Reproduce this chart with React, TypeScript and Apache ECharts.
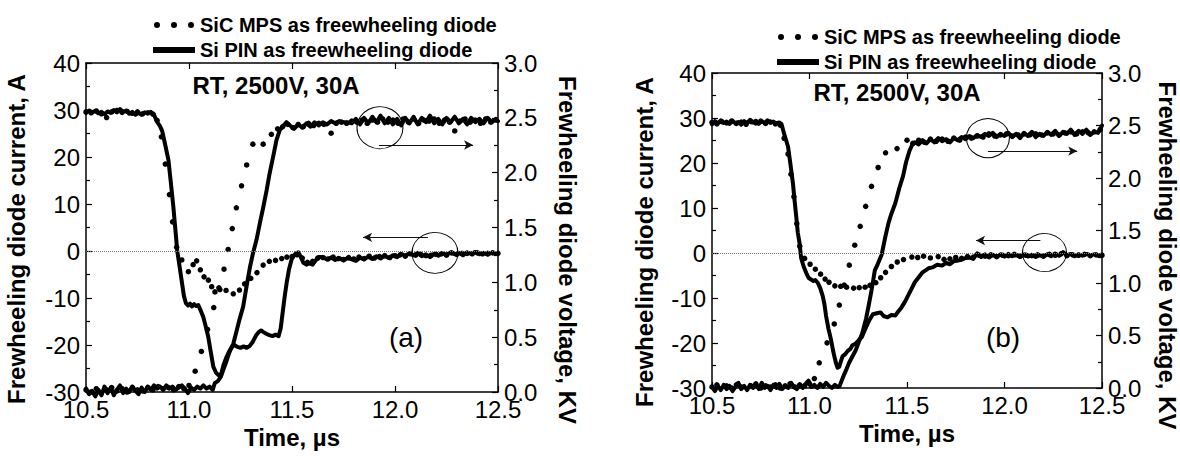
import React, { useEffect, useRef } from 'react';
import * as echarts from 'echarts';

const FONT = '"Liberation Sans", Arial, Helvetica, sans-serif';
const SIC_NAME = 'SiC MPS as freewheeling diode';
const PIN_NAME = 'Si PIN as freewheeling diode';
const X_TITLE = 'Time, \u00b5s';
const Y_LEFT_TITLE = 'Frewheeling diode current, A';
const Y_RIGHT_TITLE = 'Frewheeling diode voltage, KV';
const NOTE = 'RT, 2500V, 30A';
const PANEL_LABELS = ['(a)', '(b)'];

// x: time (us), current (A), voltage (kV)
const xRange = [10.5, 12.5];
const currentRange = [-30, 40];
const voltageRange = [0, 3];

// ---------- Panel (a) ----------
const pinCurrentA: number[][] = [
  [10.5,29.4],[10.515,29.9],[10.53,29.5],[10.545,29.8],[10.56,29.3],[10.575,29.6],[10.59,29.1],[10.605,29.7],[10.62,29.4],[10.635,30.0],[10.65,29.5],[10.665,30.2],[10.68,29.6],[10.695,29.9],[10.71,29.2],[10.725,29.6],[10.74,29.0],[10.755,29.4],[10.77,29.0],[10.785,29.5],[10.8,29.3],[10.815,29.6],[10.83,29.0],[10.845,27.5],[10.86,26.5],[10.87,25.5],[10.885,22.5],[10.9,19.4],[10.912,14.5],[10.924,9.4],[10.935,4.0],[10.943,0.0],[10.955,-3.5],[10.964,-6.2],[10.975,-9.5],[10.985,-11.1],[10.995,-11.6],[11.005,-11.2],[11.015,-11.8],[11.025,-11.3],[11.035,-11.7],[11.045,-11.5],[11.058,-12.8],[11.069,-14.0],[11.081,-16.0],[11.093,-18.2],[11.105,-21.3],[11.118,-24.6],[11.13,-25.8],[11.143,-26.4],[11.15,-26.5],[11.158,-25.9],[11.167,-24.3],[11.18,-22.8],[11.19,-21.8],[11.2,-21.0],[11.21,-20.3],[11.22,-20.0],[11.235,-20.4],[11.25,-20.6],[11.265,-20.3],[11.28,-20.6],[11.295,-20.2],[11.31,-19.3],[11.325,-18.0],[11.34,-17.2],[11.35,-16.9],[11.36,-17.2],[11.375,-17.6],[11.39,-17.9],[11.405,-18.1],[11.42,-17.8],[11.435,-18.1],[11.445,-16.5],[11.455,-13.0],[11.465,-9.5],[11.475,-6.5],[11.485,-4.0],[11.498,-1.8],[11.51,-0.9],[11.52,-0.5],[11.53,-0.3],[11.54,-1.0],[11.555,-2.5],[11.57,-2.9],[11.585,-2.6],[11.6,-2.9],[11.615,-2.0],[11.63,-1.3],[11.65,-1.3],[11.67,-1.8],[11.69,-1.4],[11.71,-1.9],[11.73,-1.5],[11.75,-2.0],[11.77,-1.5],[11.79,-1.8],[11.81,-2.1],[11.83,-1.4],[11.85,-1.8],[11.87,-1.2],[11.89,-1.7],[11.91,-1.1],[11.93,-1.6],[11.95,-1.0],[11.97,-1.5],[11.99,-0.9],[12.01,-1.3],[12.03,-0.6],[12.05,-1.0],[12.07,-0.5],[12.09,-0.9],[12.11,-0.4],[12.13,-1.1],[12.15,-0.7],[12.17,-1.3],[12.19,-0.6],[12.21,-1.0],[12.23,-0.5],[12.25,-0.8],[12.27,-0.3],[12.29,-0.7],[12.31,-0.4],[12.33,-0.9],[12.35,-0.3],[12.37,-0.6],[12.39,-0.2],[12.41,-0.7],[12.43,-0.4],[12.45,-0.8],[12.47,-0.3],[12.49,-0.6],[12.5,-0.5]
];

const pinVoltageA: number[][] = [
  [10.5,0.03],[10.515,-0.02],[10.53,0.01],[10.545,-0.04],[10.56,0.02],[10.575,-0.03],[10.59,0.05],[10.605,-0.01],[10.62,0.04],[10.635,-0.03],[10.65,0.02],[10.665,0.06],[10.68,-0.01],[10.695,0.03],[10.71,0.0],[10.725,0.05],[10.74,0.01],[10.755,-0.02],[10.77,0.04],[10.785,0.0],[10.8,0.05],[10.815,0.02],[10.83,0.06],[10.845,0.03],[10.86,0.05],[10.875,0.02],[10.89,0.06],[10.905,0.03],[10.92,0.05],[10.935,0.02],[10.95,0.04],[10.965,0.06],[10.98,0.03],[10.995,-0.01],[11.01,0.04],[11.025,0.02],[11.04,0.05],[11.055,0.03],[11.07,0.06],[11.085,0.03],[11.1,0.05],[11.115,0.02],[11.125,0.08],[11.14,0.1],[11.155,0.14],[11.166,0.2],[11.18,0.27],[11.19,0.33],[11.2,0.38],[11.215,0.44],[11.23,0.55],[11.245,0.66],[11.263,0.78],[11.28,0.97],[11.296,1.14],[11.31,1.26],[11.328,1.39],[11.345,1.55],[11.36,1.68],[11.377,1.84],[11.39,1.98],[11.41,2.16],[11.425,2.3],[11.441,2.39],[11.455,2.42],[11.473,2.46],[11.49,2.43],[11.51,2.40],[11.53,2.44],[11.55,2.41],[11.57,2.45],[11.59,2.42],[11.61,2.46],[11.63,2.43],[11.65,2.46],[11.67,2.44],[11.69,2.47],[11.71,2.45],[11.73,2.47],[11.75,2.46],[11.77,2.46],[11.79,2.45],[11.81,2.49],[11.83,2.44],[11.85,2.5],[11.87,2.45],[11.89,2.51],[11.91,2.46],[11.93,2.52],[11.95,2.45],[11.97,2.5],[11.99,2.44],[12.01,2.49],[12.03,2.43],[12.05,2.5],[12.07,2.45],[12.09,2.51],[12.11,2.44],[12.13,2.5],[12.15,2.46],[12.17,2.52],[12.19,2.45],[12.21,2.49],[12.23,2.44],[12.25,2.5],[12.27,2.46],[12.29,2.51],[12.31,2.45],[12.33,2.49],[12.35,2.44],[12.37,2.5],[12.39,2.46],[12.41,2.49],[12.43,2.45],[12.45,2.5],[12.47,2.46],[12.49,2.49],[12.5,2.47]
];

const sicCurrentA: number[][] = [
  [10.5,29.6],[10.525,29.4],[10.55,29.8],[10.575,29.2],[10.6,28.4],[10.625,29.6],[10.65,29.9],[10.675,29.5],[10.7,29.7],[10.725,29.3],[10.75,29.6],[10.775,29.2],[10.8,29.4],[10.825,29.1],[10.845,27.8],[10.866,24.3],[10.885,18.5],[10.905,12.0],[10.92,6.2],[10.94,0.8],[10.965,-1.9],[10.997,-4.4],[11.02,-2.9],[11.037,-2.1],[11.055,-4.0],[11.073,-5.5],[11.094,-6.2],[11.11,-7.6],[11.126,-8.7],[11.15,-8.2],[11.18,-8.4],[11.215,-9.1],[11.245,-8.3],[11.27,-7.0],[11.3,-5.8],[11.33,-4.6],[11.36,-3.0],[11.39,-2.2],[11.42,-2.0],[11.45,-1.6],[11.475,-1.3],[11.5,-1.2],[11.525,-0.8],[11.55,-1.5],[11.575,-2.4],[11.6,-2.2],[11.625,-1.5],[11.65,-1.4],[11.675,-1.7],[11.7,-1.3],[11.725,-1.6],[11.75,-1.8],[11.775,-1.4],[11.8,-1.7],[11.825,-1.3],[11.85,-1.6],[11.875,-1.1],[11.9,-1.5],[11.925,-1.2],[11.95,-1.0],[11.975,-1.4],[12.0,-1.0],[12.025,-0.8],[12.05,-1.1],[12.075,-0.6],[12.1,-0.9],[12.125,-0.7],[12.15,-1.0],[12.175,-0.9],[12.2,-0.7],[12.225,-0.6],[12.25,-0.9],[12.275,-0.4],[12.3,-0.7],[12.325,-0.5],[12.35,-0.5],[12.375,-0.6],[12.4,-0.4],[12.425,-0.6],[12.45,-0.5],[12.475,-0.4],[12.5,-0.5]
];

const sicVoltageA: number[][] = [
  [10.5,0.02],[10.525,0.0],[10.55,0.03],[10.575,-0.01],[10.6,0.02],[10.625,0.04],[10.65,0.01],[10.675,0.03],[10.7,0.0],[10.725,0.04],[10.75,0.02],[10.775,0.01],[10.8,0.04],[10.825,0.02],[10.85,0.05],[10.875,0.03],[10.9,0.04],[10.925,0.02],[10.95,0.05],[10.975,0.03],[11.0,0.06],[11.03,0.19],[11.06,0.37],[11.09,0.57],[11.12,0.77],[11.145,0.95],[11.17,1.12],[11.19,1.30],[11.21,1.49],[11.23,1.68],[11.255,1.88],[11.28,2.07],[11.31,2.26],[11.36,2.26],[11.40,2.35],[11.43,2.40],[11.455,2.42],[11.48,2.44],[11.505,2.41],[11.53,2.44],[11.555,2.42],[11.58,2.45],[11.605,2.43],[11.63,2.45],[11.655,2.44],[11.69,2.36],[11.715,2.45],[11.74,2.46],[11.765,2.45],[11.79,2.47],[11.815,2.46],[11.84,2.48],[11.865,2.45],[11.89,2.48],[11.915,2.46],[11.94,2.49],[11.965,2.46],[11.99,2.48],[12.015,2.45],[12.04,2.49],[12.065,2.46],[12.09,2.49],[12.115,2.45],[12.14,2.48],[12.165,2.47],[12.19,2.49],[12.215,2.45],[12.24,2.48],[12.265,2.46],[12.29,2.38],[12.315,2.47],[12.34,2.49],[12.365,2.46],[12.39,2.48],[12.415,2.45],[12.44,2.49],[12.465,2.46],[12.49,2.48]
];

// ---------- Panel (b) ----------
const pinCurrentB: number[][] = [
  [10.5,28.6],[10.515,29.3],[10.53,28.8],[10.545,29.5],[10.56,28.9],[10.575,29.2],[10.59,28.7],[10.605,29.4],[10.62,28.8],[10.635,29.1],[10.65,28.5],[10.665,29.3],[10.68,28.9],[10.695,29.6],[10.71,29.0],[10.725,29.4],[10.74,28.7],[10.755,29.3],[10.77,28.9],[10.785,29.5],[10.8,29.0],[10.815,29.2],[10.83,28.8],[10.845,29.0],[10.856,28.7],[10.87,26.5],[10.89,23.6],[10.903,19.5],[10.915,15.5],[10.925,11.0],[10.932,8.1],[10.94,4.5],[10.949,2.2],[10.957,-1.1],[10.97,-3.0],[10.983,-4.4],[10.995,-5.5],[11.008,-5.9],[11.02,-6.2],[11.03,-6.0],[11.042,-6.6],[11.055,-7.8],[11.068,-9.6],[11.077,-11.5],[11.085,-14.0],[11.097,-16.8],[11.11,-19.2],[11.12,-21.5],[11.127,-22.9],[11.136,-24.5],[11.144,-25.5],[11.152,-25.3],[11.16,-24.2],[11.17,-22.9],[11.183,-22.5],[11.195,-21.8],[11.21,-21.3],[11.22,-20.5],[11.235,-20.2],[11.25,-19.5],[11.268,-18.7],[11.285,-17.0],[11.306,-15.0],[11.325,-13.6],[11.345,-13.4],[11.364,-13.2],[11.38,-14.0],[11.4,-14.3],[11.42,-13.8],[11.44,-13.9],[11.455,-13.0],[11.47,-12.2],[11.49,-10.8],[11.51,-9.1],[11.525,-7.8],[11.54,-6.5],[11.56,-5.4],[11.58,-4.3],[11.61,-3.4],[11.63,-3.2],[11.655,-2.6],[11.68,-2.8],[11.7,-2.2],[11.72,-2.5],[11.74,-1.8],[11.76,-1.7],[11.78,-1.5],[11.8,-1.1],[11.82,-1.0],[11.84,-1.3],[11.86,-0.1],[11.88,-0.9],[11.9,-0.3],[11.92,-1.0],[11.94,-0.4],[11.96,-0.9],[11.98,-0.3],[12.0,-0.8],[12.02,-0.2],[12.04,-0.7],[12.06,-0.4],[12.08,-0.9],[12.1,-0.3],[12.12,-0.8],[12.14,-0.4],[12.16,-0.9],[12.18,-0.5],[12.2,-0.8],[12.22,-0.3],[12.24,-0.7],[12.26,-0.1],[12.28,-0.6],[12.3,0.2],[12.32,-0.5],[12.34,-0.2],[12.36,-0.7],[12.38,-0.3],[12.4,-0.6],[12.42,-0.2],[12.44,-0.5],[12.46,-0.3],[12.48,-0.6],[12.5,-0.4]
];

const pinVoltageB: number[][] = [
  [10.5,0.01],[10.515,-0.03],[10.53,0.02],[10.545,-0.02],[10.56,0.03],[10.575,-0.01],[10.59,0.02],[10.605,-0.03],[10.62,0.01],[10.635,0.05],[10.65,-0.01],[10.665,0.02],[10.68,-0.02],[10.695,0.03],[10.71,0.0],[10.725,0.04],[10.74,-0.01],[10.755,0.05],[10.77,0.0],[10.785,0.02],[10.8,-0.02],[10.815,0.03],[10.83,0.0],[10.845,0.04],[10.86,-0.01],[10.875,0.02],[10.89,0.0],[10.905,0.05],[10.92,0.01],[10.935,-0.01],[10.95,0.03],[10.965,0.0],[10.98,0.04],[10.995,0.07],[11.01,0.01],[11.025,0.03],[11.04,0.0],[11.055,0.04],[11.07,0.01],[11.085,0.05],[11.1,0.02],[11.115,0.0],[11.13,0.03],[11.145,0.01],[11.155,0.02],[11.165,0.07],[11.178,0.13],[11.19,0.18],[11.203,0.24],[11.22,0.3],[11.237,0.36],[11.255,0.45],[11.27,0.52],[11.29,0.66],[11.305,0.8],[11.32,0.95],[11.335,1.12],[11.35,1.18],[11.37,1.27],[11.39,1.45],[11.405,1.57],[11.42,1.66],[11.44,1.76],[11.46,1.9],[11.48,2.02],[11.495,2.15],[11.513,2.26],[11.525,2.31],[11.54,2.34],[11.56,2.32],[11.58,2.36],[11.6,2.33],[11.62,2.37],[11.64,2.34],[11.66,2.38],[11.68,2.35],[11.7,2.37],[11.72,2.34],[11.74,2.38],[11.76,2.36],[11.78,2.39],[11.8,2.37],[11.82,2.4],[11.84,2.38],[11.86,2.41],[11.88,2.39],[11.9,2.42],[11.92,2.4],[11.94,2.43],[11.96,2.39],[11.98,2.42],[12.0,2.4],[12.02,2.43],[12.04,2.39],[12.06,2.42],[12.08,2.38],[12.1,2.43],[12.12,2.4],[12.14,2.44],[12.16,2.39],[12.18,2.42],[12.2,2.4],[12.22,2.44],[12.24,2.41],[12.26,2.45],[12.28,2.4],[12.3,2.44],[12.32,2.42],[12.34,2.46],[12.36,2.41],[12.38,2.45],[12.4,2.42],[12.42,2.46],[12.44,2.41],[12.46,2.44],[12.48,2.43],[12.5,2.5]
];

const sicCurrentB: number[][] = [
  [10.5,29.0],[10.525,28.7],[10.55,29.2],[10.575,28.9],[10.6,29.3],[10.625,28.8],[10.65,29.1],[10.675,28.6],[10.7,29.2],[10.725,28.9],[10.75,29.3],[10.775,28.8],[10.8,29.1],[10.825,28.7],[10.85,28.4],[10.87,25.5],[10.89,22.0],[10.905,17.5],[10.92,12.5],[10.935,6.5],[10.95,1.5],[10.975,-1.2],[11.003,-2.5],[11.03,-3.6],[11.057,-4.7],[11.08,-5.8],[11.1,-6.5],[11.13,-7.3],[11.16,-7.4],[11.19,-7.6],[11.226,-7.8],[11.255,-7.7],[11.285,-7.6],[11.31,-7.2],[11.34,-6.6],[11.365,-5.5],[11.39,-4.3],[11.42,-3.0],[11.45,-2.0],[11.482,-1.45],[11.525,-0.9],[11.555,-1.0],[11.585,-0.7],[11.62,-1.1],[11.66,-0.8],[11.69,-1.4],[11.72,-1.3],[11.75,-1.0],[11.78,-1.2],[11.81,-0.8],[11.84,-0.9],[11.87,-0.5],[11.9,-0.7],[11.93,-0.4],[11.96,-0.8],[11.99,-0.5],[12.02,-0.6],[12.05,-0.3],[12.08,-0.7],[12.11,-0.5],[12.14,-0.6],[12.17,-0.4],[12.2,-0.7],[12.23,-0.3],[12.26,-0.5],[12.29,-0.2],[12.32,-0.6],[12.35,-0.4],[12.38,-0.5],[12.41,-0.3],[12.44,-0.6],[12.47,-0.4],[12.5,-0.5]
];

const sicVoltageB: number[][] = [
  [10.5,0.01],[10.525,0.03],[10.55,-0.01],[10.575,0.02],[10.6,0.0],[10.625,0.03],[10.65,0.01],[10.675,-0.01],[10.7,0.02],[10.725,0.04],[10.75,0.0],[10.775,0.02],[10.8,0.01],[10.825,0.03],[10.85,0.0],[10.875,0.02],[10.9,0.04],[10.925,0.01],[10.95,0.03],[10.975,0.02],[11.0,0.04],[11.025,0.09],[11.05,0.24],[11.09,0.43],[11.127,0.61],[11.153,0.79],[11.178,0.98],[11.204,1.17],[11.232,1.36],[11.26,1.54],[11.288,1.73],[11.318,1.92],[11.352,2.1],[11.39,2.24],[11.449,2.28],[11.5,2.36],[11.53,2.33],[11.56,2.36],[11.59,2.34],[11.62,2.37],[11.65,2.35],[11.68,2.37],[11.71,2.35],[11.74,2.38],[11.77,2.36],[11.8,2.39],[11.83,2.38],[11.86,2.4],[11.89,2.39],[11.92,2.42],[11.95,2.4],[11.98,2.41],[12.01,2.42],[12.04,2.4],[12.07,2.41],[12.1,2.42],[12.13,2.41],[12.16,2.42],[12.19,2.41],[12.22,2.43],[12.25,2.42],[12.28,2.41],[12.31,2.43],[12.34,2.44],[12.37,2.42],[12.4,2.44],[12.43,2.43],[12.46,2.44],[12.49,2.46]
];

// Annotation anchors (data coordinates): circles and arrows
const circleVoltage = [[11.927, 2.41], [11.915, 2.38]];
const circleCurrent = [[12.194, -0.4], [12.205, 0.1]];
const arrowRight = [[11.922, 12.379, 2.252], [11.915, 12.373, 2.256]]; // from, to, voltage
const arrowLeft = [[12.16, 11.845, 2.91], [12.184, 11.854, 2.77]]; // from, to, current

const DOTS_ICON =
  'path://M0,3a3,3 0 1,0 6,0a3,3 0 1,0 -6,0M17,3a3,3 0 1,0 6,0a3,3 0 1,0 -6,0M34,3a3,3 0 1,0 6,0a3,3 0 1,0 -6,0';

const grids = [
  { left: 86, top: 63, width: 412, height: 329 },
  { left: 712, top: 73, width: 393, height: 315 },
];

const panelData = [
  { pinI: pinCurrentA, pinV: pinVoltageA, sicI: sicCurrentA, sicV: sicVoltageA },
  { pinI: pinCurrentB, pinV: pinVoltageB, sicI: sicCurrentB, sicV: sicVoltageB },
];

const circleSizes = [
  [[46, 42], [46, 41]],
  [[43, 39], [44, 38]],
];

const textPos = [
  { note: [276, 85], label: [406, 337] },
  { note: [897, 92], label: [1003, 337] },
];

function buildOption() {
  const axisLine = { show: true, onZero: false, lineStyle: { color: '#000', width: 1.5 } };
  const axisTick = { show: true, inside: true, length: 6, lineStyle: { color: '#000', width: 1.2 } };
  const minorTick = { show: true, splitNumber: 2, length: 4, lineStyle: { color: '#000', width: 1.2 } };
  const labelStyle = { fontSize: 24, color: '#000', fontFamily: FONT };
  const nameStyle = { fontSize: 24, fontWeight: 'bold', color: '#000', fontFamily: FONT };

  const xAxis: any[] = [];
  const yAxis: any[] = [];
  const series: any[] = [];
  const graphic: any[] = [];

  grids.forEach((_, p) => {
    xAxis.push({
      type: 'value', gridIndex: p, min: xRange[0], max: xRange[1], interval: 0.5, position: 'bottom',
      axisLine, axisTick, splitLine: { show: false },
      axisLabel: { ...labelStyle, margin: 5, formatter: (v: number) => v.toFixed(1) },
      name: X_TITLE, nameLocation: 'middle', nameGap: 31, nameTextStyle: nameStyle,
    });
    xAxis.push({
      type: 'value', gridIndex: p, min: xRange[0], max: xRange[1], interval: 0.5, position: 'top',
      axisLine, axisTick, splitLine: { show: false }, axisLabel: { show: false },
    });
    yAxis.push({
      type: 'value', gridIndex: p, min: currentRange[0], max: currentRange[1], interval: 10, position: 'left',
      axisLine, axisTick, minorTick, splitLine: { show: false },
      axisLabel: { ...labelStyle, margin: 6 },
      name: Y_LEFT_TITLE, nameLocation: 'middle', nameRotate: 90, nameGap: p === 0 ? 58 : 56,
      nameTextStyle: { ...nameStyle, padding: [0, 23, 0, 0] },
    });
    yAxis.push({
      type: 'value', gridIndex: p, min: voltageRange[0], max: voltageRange[1], interval: 0.5, position: 'right',
      axisLine, axisTick, minorTick, splitLine: { show: false },
      axisLabel: { ...labelStyle, margin: 6, formatter: (v: number) => v.toFixed(1) },
      name: Y_RIGHT_TITLE, nameLocation: 'middle', nameRotate: -90, nameGap: p === 0 ? 57 : 53,
      nameTextStyle: { ...nameStyle, padding: [0, 0, 0, p === 0 ? 45 : 50] },
    });

    const xi = p * 2;
    const yi = p * 2;
    const yv = p * 2 + 1;
    const d = panelData[p];

    series.push({
      type: 'scatter', name: SIC_NAME, xAxisIndex: xi, yAxisIndex: yi, data: d.sicI,
      symbol: 'circle', symbolSize: 5.5, itemStyle: { color: '#000', opacity: 1 }, silent: true, z: 2,
      markLine: {
        silent: true, symbol: 'none', label: { show: false },
        lineStyle: { type: 'dotted', color: '#777', width: 1 },
        data: [{ yAxis: 0 }],
      },
    });
    series.push({
      type: 'scatter', name: SIC_NAME, xAxisIndex: xi, yAxisIndex: yv, data: d.sicV,
      symbol: 'circle', symbolSize: 5.5, itemStyle: { color: '#000', opacity: 1 }, silent: true, z: 2,
    });
    series.push({
      type: 'line', name: PIN_NAME, xAxisIndex: xi, yAxisIndex: yi, data: d.pinI,
      symbol: 'none', showSymbol: false, silent: true, z: 3,
      lineStyle: { color: '#000', width: 4, cap: 'round', join: 'round' }, itemStyle: { color: '#000' },
      markLine: {
        silent: true, symbol: ['none', 'arrow'], symbolSize: [7, 9], label: { show: false },
        lineStyle: { type: 'solid', color: '#111', width: 1.2 },
        data: [[{ coord: [arrowLeft[p][0], arrowLeft[p][2]] }, { coord: [arrowLeft[p][1], arrowLeft[p][2]] }]],
      },
      markPoint: {
        silent: true, label: { show: false },
        itemStyle: { color: 'transparent', borderColor: '#000', borderWidth: 1 },
        data: [{ coord: circleCurrent[p], symbol: 'circle', symbolSize: circleSizes[p][1] }],
      },
    });
    series.push({
      type: 'line', name: PIN_NAME, xAxisIndex: xi, yAxisIndex: yv, data: d.pinV, clip: false,
      symbol: 'none', showSymbol: false, silent: true, z: 3,
      lineStyle: { color: '#000', width: 4, cap: 'round', join: 'round' }, itemStyle: { color: '#000' },
      markLine: {
        silent: true, symbol: ['none', 'arrow'], symbolSize: [7, 9], label: { show: false },
        lineStyle: { type: 'solid', color: '#111', width: 1.2 },
        data: [[{ coord: [arrowRight[p][0], arrowRight[p][2]] }, { coord: [arrowRight[p][1], arrowRight[p][2]] }]],
      },
      markPoint: {
        silent: true, label: { show: false },
        itemStyle: { color: 'transparent', borderColor: '#000', borderWidth: 1 },
        data: [{ coord: circleVoltage[p], symbol: 'circle', symbolSize: circleSizes[p][0] }],
      },
    });

    graphic.push({
      type: 'text', x: textPos[p].note[0], y: textPos[p].note[1], silent: true,
      style: { text: NOTE, fontSize: 24, fontWeight: 'bold', fontFamily: FONT, fill: '#000', align: 'center', verticalAlign: 'middle' },
    });
    graphic.push({
      type: 'text', x: textPos[p].label[0], y: textPos[p].label[1], silent: true,
      style: { text: PANEL_LABELS[p], fontSize: 28, fontFamily: FONT, fill: '#000', align: 'center', verticalAlign: 'middle' },
    });
  });

  const legendBase = {
    orient: 'vertical', itemWidth: 42, itemHeight: 6, itemGap: 5, selectedMode: false,
    textStyle: { fontSize: 20, fontWeight: 'bold', fontFamily: FONT, color: '#000' },
    data: [{ name: SIC_NAME, icon: DOTS_ICON }, { name: PIN_NAME, icon: 'rect' }],
  };

  return {
    animation: false,
    backgroundColor: '#fff',
    textStyle: { fontFamily: FONT },
    grid: grids,
    xAxis,
    yAxis,
    series,
    graphic,
    legend: [
      { ...legendBase, left: 148, top: 10 },
      { ...legendBase, left: 772, top: 22 },
    ],
  };
}

export default function App() {
  const ref = useRef<HTMLDivElement>(null);
  useEffect(() => {
    if (!ref.current) return;
    const chart = echarts.init(ref.current, undefined, { renderer: 'svg' });
    chart.setOption(buildOption() as any);
    return () => chart.dispose();
  }, []);
  return (
    <div
      ref={ref}
      style={{ position: 'absolute', left: 0, top: 0, width: 1180, height: 456, background: '#fff' }}
    />
  );
}
